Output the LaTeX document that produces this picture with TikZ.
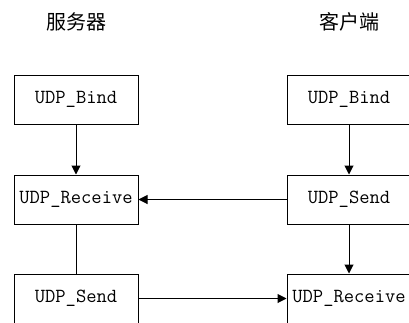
\documentclass[tikz,border=0pt]{standalone}
\usepackage{fontspec}
\newfontfamily\cjk{Noto Sans CJK SC}
\usetikzlibrary{arrows.meta}
\begin{document}
\begin{tikzpicture}[x=1pt,y=-1pt,
  box/.style={draw,line width=1pt,minimum width=124pt,minimum height=49pt,inner sep=0pt,
    font=\ttfamily\fontsize{20}{24}\selectfont},
  title/.style={font=\cjk\fontsize{20}{24}\selectfont,inner sep=0pt},
  conn/.style={line width=1pt},
  arr/.style={conn,-{Triangle[length=9pt,width=9pt]}}]
\useasboundingbox (0,0) rectangle (409,322);
\clip (0,0) rectangle (409,322);
\node[title] (t1) at (76,22) {服务器};
\node[title] (t2) at (349,22) {客户端};
\node[box] (sb) at (76,99.5) {UDP\_Bind};
\node[box] (sr) at (76,199.5) {UDP\_Receive};
\node[box] (ss) at (76,298.5) {UDP\_Send};
\node[box] (cb) at (349,99.5) {UDP\_Bind};
\node[box] (cs) at (349,199.5) {UDP\_Send};
\node[box] (cr) at (349,298.5) {UDP\_Receive};
\draw[arr] (sb) -- (sr);
\draw[conn] (sr) -- (ss);
\draw[arr] (cb) -- (cs);
\draw[arr] (cs) -- (cr);
\draw[arr] (cs) -- (sr);
\draw[arr] (ss) -- (cr);
\end{tikzpicture}
\end{document}
